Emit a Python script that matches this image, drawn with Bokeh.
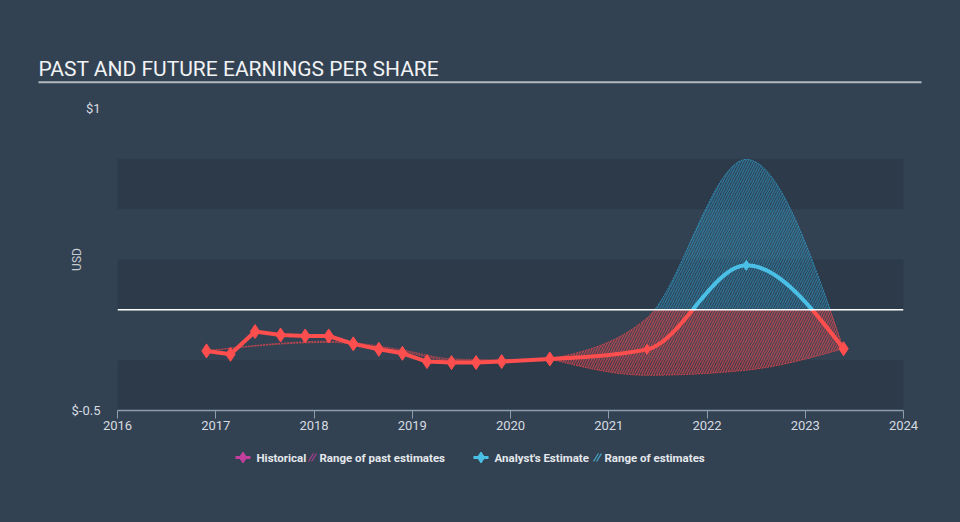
import numpy as np
from bokeh.plotting import figure
from bokeh.layouts import column
from bokeh.models import Range1d, FixedTicker, Span, BoxAnnotation
from bokeh.core.properties import value
from bokeh.embed import file_html
from bokeh.resources import INLINE

# ---------------- data ----------------
title_text = "PAST AND FUTURE EARNINGS PER SHARE"
years = [2016, 2017, 2018, 2019, 2020, 2021, 2022, 2023, 2024]
y_ticks = [-0.5, 1.0]
y_tick_labels = ["$-0.5", "$1"]
y_label = "USD"

hist_x = [2016.906, 2017.15, 2017.40, 2017.66, 2017.91, 2018.15, 2018.40,
          2018.66, 2018.90, 2019.15, 2019.40, 2019.65, 2019.91, 2020.40]
hist_eps = [-0.204, -0.221, -0.108, -0.125, -0.130, -0.130, -0.169,
            -0.196, -0.216, -0.257, -0.262, -0.262, -0.257, -0.244]

past_x = [2016.906, 2018.15, 2018.40, 2018.90, 2019.40, 2019.91, 2020.40]
past_low = [-0.204, -0.162, -0.170, -0.208, -0.252, -0.254, -0.244]
past_high = [-0.204, -0.156, -0.163, -0.199, -0.243, -0.248, -0.244]

est_x = [2020.40, 2021.39, 2022.40, 2023.39]
est_eps = [-0.244, -0.196, 0.221, -0.193]
est_low = [-0.244, -0.325, -0.300, -0.193]
est_high = [-0.244, -0.040, 0.747, -0.193]

legend_labels = ["Historical", "Range of past estimates", "Analyst's Estimate", "Range of estimates"]

# ---------------- style ----------------
BG = "#334252"
BAND = "#2d3a49"
RED = "#ff4e4e"
BLUE = "#4bc0e6"
MAGENTA = "#c23f9e"
AREA_RED = "#f04a50"
AREA_BLUE = "#3199c8"
TXT = "#d6dbe0"
FONT = "Roboto"
W = 960


def monotone_x(xs, ys, n=80):
    """d3 curveMonotoneX rendering of the given nodes."""
    xs = np.asarray(xs, float)
    ys = np.asarray(ys, float)
    N = len(xs)
    h = np.diff(xs)
    s = np.diff(ys) / h
    t = np.zeros(N)
    sg = lambda v: -1.0 if v < 0 else 1.0
    for i in range(1, N - 1):
        p = (s[i - 1] * h[i] + s[i] * h[i - 1]) / (h[i - 1] + h[i])
        t[i] = (sg(s[i - 1]) + sg(s[i])) * min(abs(s[i - 1]), abs(s[i]), 0.5 * abs(p))
    if N > 2:
        t[0] = (3 * s[0] - t[1]) / 2
        t[-1] = (3 * s[-1] - t[-2]) / 2
    else:
        t[:] = s[0]
    X, Y = [], []
    for i in range(N - 1):
        u = np.linspace(0, 1, n, endpoint=(i == N - 2))
        h00 = 2 * u**3 - 3 * u**2 + 1
        h10 = u**3 - 2 * u**2 + u
        h01 = -2 * u**3 + 3 * u**2
        h11 = u**3 - u**2
        X.append(xs[i] + u * h[i])
        Y.append(h00 * ys[i] + h10 * h[i] * t[i] + h01 * ys[i + 1] + h11 * h[i] * t[i + 1])
    return np.concatenate(X), np.concatenate(Y)


def split_sign(x, y):
    xs, ys = [x[0]], [y[0]]
    for i in range(1, len(x)):
        if (y[i - 1] < 0) != (y[i] < 0):
            xc = x[i - 1] + (0 - y[i - 1]) * (x[i] - x[i - 1]) / (y[i] - y[i - 1])
            xs.append(xc)
            ys.append(0.0)
        xs.append(x[i])
        ys.append(y[i])
    xs = np.array(xs)
    ys = np.array(ys)
    neg = np.where(ys <= 0, ys, np.nan)
    pos = np.where(ys >= 0, ys, np.nan)
    return xs, neg, pos


def no_align(fig):
    try:
        fig.frame_align = False
    except Exception:
        pass


# ---------------- title figure ----------------
tf = figure(width=W, height=98, x_range=Range1d(0, W), y_range=Range1d(98, 0),
            x_axis_type=None, y_axis_type=None, output_backend="svg", toolbar_location=None,
            min_border=0, background_fill_color=BG, border_fill_color=BG, outline_line_color=None)
no_align(tf)
tf.grid.visible = False
tf.text(x=[38], y=[68.5], text=[title_text], text_font=value(FONT), text_font_size=value("21px"),
        text_color="#f0f2f4", text_baseline="alphabetic", text_align="left")
tf.segment(x0=[38], y0=[81.8], x1=[921], y1=[81.8], line_color="#b3b9c0", line_width=2)

# ---------------- main figure ----------------
p = figure(width=W, height=348, x_range=Range1d(years[0], years[-1]), y_range=Range1d(y_ticks[0], y_ticks[-1]),
           output_backend="svg", toolbar_location=None,
           min_border_left=117, min_border_right=57, min_border_top=10, min_border_bottom=36,
           background_fill_color=BG, border_fill_color=BG, outline_line_color=None)
no_align(p)
p.xgrid.visible = False
p.ygrid.visible = False

for b, t_ in [(0.5, 0.75), (0.0, 0.25), (-0.5, -0.25)]:
    p.add_layout(BoxAnnotation(bottom=b, top=t_, fill_color=BAND, fill_alpha=1.0,
                               line_alpha=0, level="underlay"))

HATCH = dict(hatch_pattern="right_diagonal_line", hatch_scale=5, hatch_weight=1.2)

# past estimate range
px_, plo = monotone_x(past_x, past_low)
_, phi = monotone_x(past_x, past_high)
p.varea(x=px_, y1=plo, y2=phi, fill_color=AREA_RED, fill_alpha=0.1,
        hatch_color=AREA_RED, hatch_alpha=0.5, **HATCH)
p.line(px_, phi, line_color=AREA_RED, line_alpha=0.6, line_width=1, line_dash="2 1")
p.line(px_, plo, line_color=AREA_RED, line_alpha=0.6, line_width=1, line_dash="2 1")

# future estimate range
ex, elo = monotone_x(est_x, est_low)
_, ehi = monotone_x(est_x, est_high)
p.varea(x=ex, y1=np.minimum(elo, 0), y2=np.minimum(ehi, 0), fill_color=AREA_RED, fill_alpha=0.12,
        hatch_color=AREA_RED, hatch_alpha=0.6, **HATCH)
p.varea(x=ex, y1=np.maximum(elo, 0), y2=np.maximum(ehi, 0), fill_color=AREA_BLUE, fill_alpha=0.12,
        hatch_color=AREA_BLUE, hatch_alpha=0.55, **HATCH)
hx, hneg, hpos = split_sign(ex, ehi)
p.line(hx, hneg, line_color=AREA_RED, line_alpha=0.7, line_width=1, line_dash="2 1")
p.line(hx, hpos, line_color=AREA_BLUE, line_alpha=0.9, line_width=1, line_dash="2 1")
p.line(ex, elo, line_color=AREA_RED, line_alpha=0.7, line_width=1, line_dash="2 1")

p.add_layout(Span(location=0, dimension="width", line_color="white", line_width=1.5))

# historical line
hx2, hn2, hp2 = split_sign(np.array(hist_x, float), np.array(hist_eps, float))
p.line(hx2, hn2, line_color=RED, line_width=4, line_join="round")
p.line(hx2, hp2, line_color=MAGENTA, line_width=4, line_join="round")
p.scatter(hist_x, hist_eps, marker="diamond", size=14,
          color=[RED if v < 0 else MAGENTA for v in hist_eps])

# analyst estimate line
sx, sy = monotone_x(est_x, est_eps)
ax_, aneg, apos = split_sign(sx, sy)
p.line(ax_, aneg, line_color=RED, line_width=4)
p.line(ax_, apos, line_color=BLUE, line_width=4)
p.scatter(est_x[1:], est_eps[1:], marker="diamond",
          size=[10] * (len(est_x) - 2) + [14],
          color=[RED if v < 0 else BLUE for v in est_eps[1:]])

# axes
p.xaxis.ticker = FixedTicker(ticks=years)
p.xaxis.minor_tick_line_color = None
p.xaxis.major_tick_in = 0
p.xaxis.major_tick_out = 8
p.xaxis.axis_line_color = "#8e9cad"
p.xaxis.major_tick_line_color = "#8e9cad"
p.xaxis.axis_line_width = 1.5
p.xaxis.major_label_standoff = 2
p.xaxis.major_label_text_font = FONT
p.xaxis.major_label_text_font_size = "13px"
p.xaxis.major_label_text_color = TXT

p.yaxis.ticker = FixedTicker(ticks=y_ticks)
p.yaxis.major_label_overrides = {k: v for k, v in zip(y_ticks, y_tick_labels)}
p.yaxis.axis_line_color = None
p.yaxis.major_tick_line_color = None
p.yaxis.minor_tick_line_color = None
p.yaxis.major_label_standoff = 11
p.yaxis.major_label_text_font = FONT
p.yaxis.major_label_text_font_size = "13px"
p.yaxis.major_label_text_color = TXT
p.yaxis.axis_label = y_label
p.yaxis.axis_label_text_font = FONT
p.yaxis.axis_label_text_font_size = "12px"
p.yaxis.axis_label_text_font_style = "normal"
p.yaxis.axis_label_text_color = "#c5cbd2"
p.yaxis.axis_label_standoff = -15

# ---------------- legend figure ----------------
LH = 74
lf = figure(width=W, height=LH, x_range=Range1d(0, W), y_range=Range1d(LH, 0),
            x_axis_type=None, y_axis_type=None, output_backend="svg", toolbar_location=None,
            min_border=0, background_fill_color=BG, border_fill_color=BG, outline_line_color=None)
no_align(lf)
lf.grid.visible = False
ly = 11
# Historical icon
lf.segment(x0=[235], y0=[ly], x1=[250], y1=[ly], line_color=MAGENTA, line_width=3)
lf.scatter([242.5], [ly], marker="diamond", size=11, color=MAGENTA)
lf.segment(x0=[308, 311], y0=[ly + 4, ly + 4], x1=[313, 316], y1=[ly - 4, ly - 4],
           line_color=MAGENTA, line_alpha=0.8, line_width=1.2)
# Analyst icon
lf.segment(x0=[473], y0=[ly], x1=[488], y1=[ly], line_color=BLUE, line_width=3)
lf.scatter([480.5], [ly], marker="diamond", size=11, color=BLUE)
lf.segment(x0=[593, 596], y0=[ly + 4, ly + 4], x1=[598, 601], y1=[ly - 4, ly - 4],
           line_color=BLUE, line_alpha=0.8, line_width=1.2)
lf.text(x=[256, 319, 494, 604], y=[ly] * 4, text=legend_labels,
        text_font=value(FONT), text_font_size=value("11.5px"), text_font_style="bold",
        text_color="#e4e8ec", text_baseline="middle", text_align="left")

layout = column(tf, p, lf, spacing=0)

html = file_html(layout, INLINE, title="Past and future earnings per share")
html = html.replace("</head>",
                    "<style>html,body{margin:0;padding:0;background:%s;overflow:hidden;}</style></head>" % BG, 1)
open("out.html", "w").write(html)
